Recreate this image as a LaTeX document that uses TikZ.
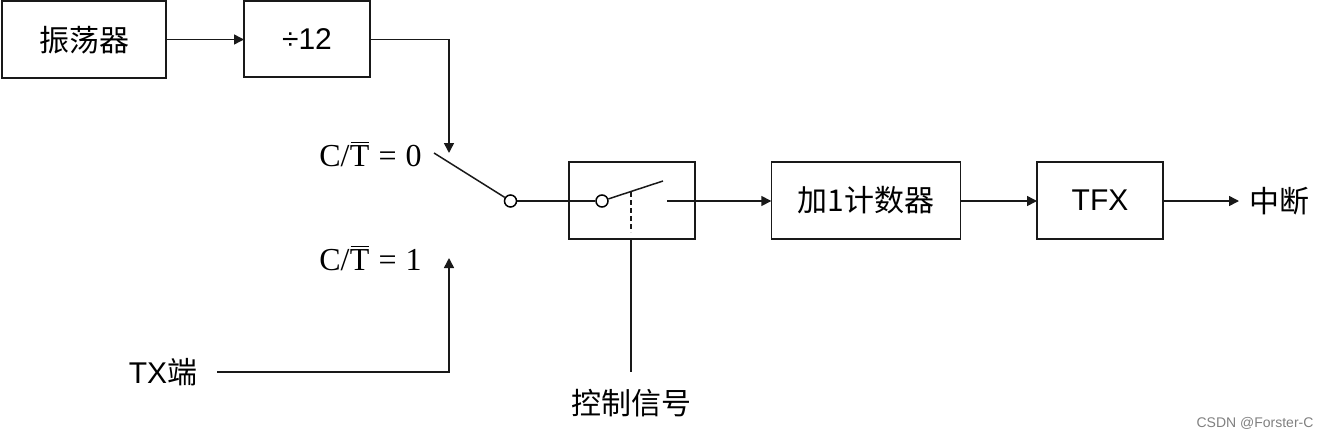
\documentclass[tikz,border=0pt]{standalone}
\usepackage{fontspec}
\setmainfont{Liberation Sans}
\newfontfamily\cjk{Noto Sans CJK SC}
\newfontfamily\mathlike{Liberation Serif}
\usetikzlibrary{arrows.meta}
\newcommand{\barT}{\leavevmode\rlap{\hspace{1pt}\raisebox{23pt}{\rule{18pt}{1.6pt}}}\hbox to 20pt{\hss T\hss}}
\tikzset{
  blockbox/.style={draw=black!90,line width=1.5pt,fill=white,inner sep=0pt,outer sep=0pt,anchor=north west,font=\fontsize{30}{32}\selectfont},
  lbl/.style={inner sep=0pt,font=\fontsize{30}{32}\selectfont},
  mlbl/.style={inner sep=0pt,font=\mathlike\fontsize{32}{34}\selectfont},
  conn/.style={line width=1.5pt,draw=black!90},
  arr/.style={conn,-{Triangle[length=10pt,width=10pt]}},
  pivot/.style={circle,draw=black,line width=1.5pt,fill=white,minimum size=12pt,inner sep=0pt}
}
\begin{document}
\begin{tikzpicture}[x=1pt,y=-1pt]
\useasboundingbox (0,0) rectangle (1328,439);
\node[blockbox,minimum width=164pt,minimum height=77pt] (osc) at (2,1.2) {\cjk 振荡器};
\node[blockbox,minimum width=126pt,minimum height=76pt] (div) at (244,1.2) {÷12};
\node[blockbox,minimum width=126pt,minimum height=77pt] (gate) at (569,162) {};
\node[blockbox,minimum width=189pt,minimum height=77pt] (cnt) at (771.3,162) {\cjk 加1计数器};
\node[blockbox,minimum width=126pt,minimum height=77pt] (tfx) at (1037,162) {TFX};
\node[mlbl] (c0) at (370.5,154) {C/\barT\hspace{9pt}=\hspace{9pt}0};
\node[mlbl] (c1) at (370.5,258) {C/\barT\hspace{9pt}=\hspace{9pt}1};
\node[lbl] (tx) at (163,372) {TX\cjk 端};
\node[lbl] (ctl) at (631,403) {\cjk 控制信号};
\node[lbl] (irq) at (1279,201) {\cjk 中断};
\node[inner sep=0pt,text=black!50,font=\fontsize{14}{16}\selectfont] (wm) at (1255,423) {CSDN @Forster-C};
\node[pivot] (p1) at (510.5,201) {};
\node[pivot] (p2) at (602,201) {};
\coordinate (divc) at (449,39.5);
\coordinate (upin) at (449,153);
\coordinate (txc) at (449,372);
\coordinate (lowin) at (449,258);
\coordinate (txs) at (217,372);
\coordinate (armend) at (434,153);
\coordinate (armb) at (663,181);
\coordinate (hinge) at (631,192);
\coordinate (dashend) at (631,232);
\coordinate (ctlend) at (631,372);
\coordinate (cont) at (667,201);
\draw[arr] (osc.east |- 0,39.5) -- (div.west |- 0,39.5);
\draw[arr] (div.east |- divc) -- (divc) -- (upin);
\draw[arr] (txs) -- (txc) -- (lowin);
\draw[conn] (armend) -- (p1);
\draw[conn] (p1) -- (p2);
\draw[conn] (p2) -- (armb);
\draw[conn,dash pattern=on 5pt off 3pt] (hinge) -- (dashend);
\draw[conn] (gate.south -| ctlend) -- (ctlend);
\draw[arr] (cont) -- (cnt.west |- cont);
\draw[arr] (cnt.east |- cont) -- (tfx.west |- cont);
\draw[arr] (tfx.east |- cont) -- (1239,201);
\end{tikzpicture}
\end{document}
